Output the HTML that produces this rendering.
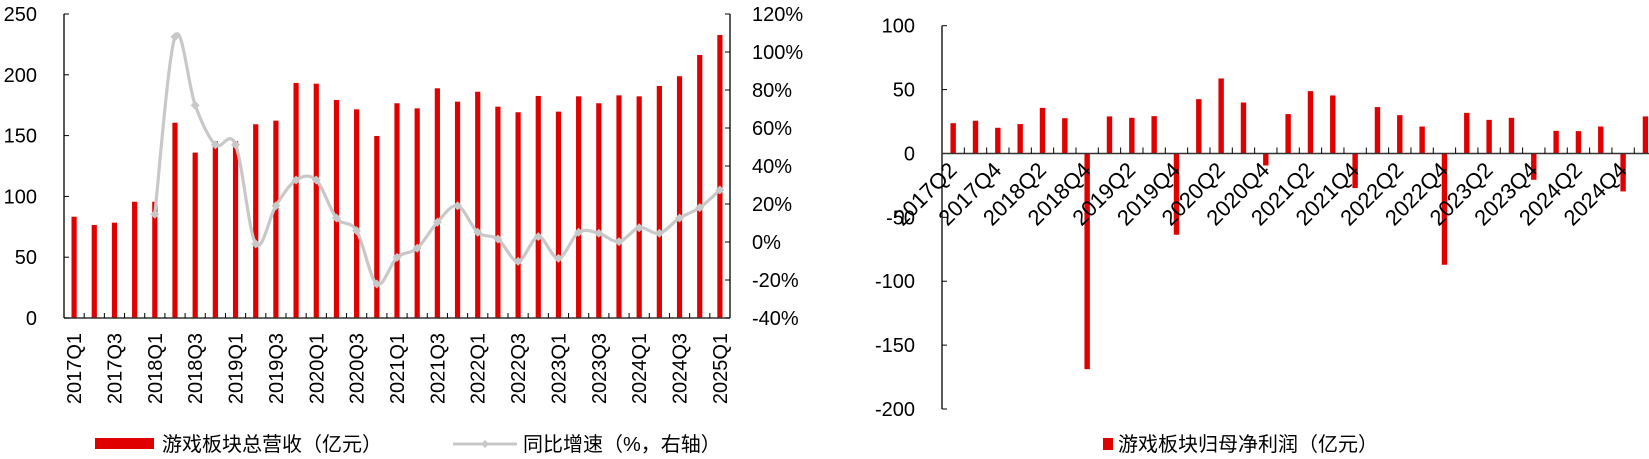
<!DOCTYPE html>
<html><head><meta charset="utf-8"><style>
body{margin:0;background:#fff}
svg{display:block;font-family:"Liberation Sans","Noto Sans CJK SC",sans-serif}
</style></head><body>
<svg id="c" width="1649" height="459" viewBox="0 0 1649 459" xmlns="http://www.w3.org/2000/svg"></svg>
<script>
const leftCats=["2017Q1","2017Q2","2017Q3","2017Q4","2018Q1","2018Q2","2018Q3","2018Q4","2019Q1","2019Q2","2019Q3","2019Q4","2020Q1","2020Q2","2020Q3","2020Q4","2021Q1","2021Q2","2021Q3","2021Q4","2022Q1","2022Q2","2022Q3","2022Q4","2023Q1","2023Q2","2023Q3","2023Q4","2024Q1","2024Q2","2024Q3","2024Q4","2025Q1"];
const revenue=[83.3,76.5,78.4,95.6,95.6,160.6,136,145.3,145.3,159.3,162.3,193.3,192.7,179.3,171.6,149.7,176.6,172.4,188.9,177.9,186.1,173.8,169.2,182.6,169.7,182.3,176.6,183.1,182.3,190.8,198.8,216.3,232.7];
const growth=[null,null,null,null,14.6,108,72,51.2,51.2,-1,19.1,32.6,32.6,12.6,5.9,-22.1,-8.1,-3.3,10.4,19.1,5.1,1.6,-10.2,2.8,-8.6,5.1,4.6,0.2,7.5,4.6,12.6,18.1,27.4];
const leftTicks=[0,50,100,150,200,250];
const rightTicks=[-40,-20,0,20,40,60,80,100,120];
const rightCats=["2017Q2","2017Q3","2017Q4","2018Q1","2018Q2","2018Q3","2018Q4","2019Q1","2019Q2","2019Q3","2019Q4","2020Q1","2020Q2","2020Q3","2020Q4","2021Q1","2021Q2","2021Q3","2021Q4","2022Q1","2022Q2","2022Q3","2022Q4","2023Q1","2023Q2","2023Q3","2023Q4","2024Q1","2024Q2","2024Q3","2024Q4","2025Q1"];
const profit=[23.7,25.6,20.1,23.0,35.7,27.6,-168.8,29.0,27.9,29.2,-63.6,42.5,58.7,39.9,-9.4,30.8,48.8,45.4,-27.1,36.3,30.0,21.1,-87.1,31.8,26.3,27.9,-20.6,17.7,17.5,21.1,-29.7,29.0];
const profitTicks=[-200,-150,-100,-50,0,50,100];

const svg=document.getElementById('c');
const NS='http://www.w3.org/2000/svg';
function mk(tag,attrs,parent,text){const e=document.createElementNS(NS,tag);for(const k in attrs)e.setAttribute(k,attrs[k]);if(text!==undefined)e.textContent=text;(parent||svg).appendChild(e);return e;}

// ---- left chart ----
const L={x0:64,x1:730,y0:318,y1:14};
const lbw=(L.x1-L.x0)/leftCats.length;
const lx=i=>L.x0+lbw*(i+0.5);
const ly=v=>L.y0-(v-0)/250*(L.y0-L.y1);
const ry=v=>L.y0-(v+40)/160*(L.y0-L.y1);
const gL=mk('g',{});


revenue.forEach((v,i)=>{
  const r=mk('rect',{x:lx(i)-2.6,y:ly(v),width:5.2,height:ly(0)-ly(v),fill:'#e00000'},gL);
  
  
});
mk('line',{x1:L.x0,y1:L.y1,x2:L.x0,y2:L.y0,stroke:'#000','stroke-width':1.3},gL);
mk('line',{x1:L.x1,y1:L.y1,x2:L.x1,y2:L.y0,stroke:'#000','stroke-width':1.3},gL);
mk('line',{x1:L.x0,y1:L.y0,x2:L.x1,y2:L.y0,stroke:'#333','stroke-width':1.5},gL);
for(let i=0;i<=leftCats.length;i++){mk('line',{x1:L.x0+lbw*i,y1:L.y0,x2:L.x0+lbw*i,y2:L.y0-5,stroke:'#000','stroke-width':1},gL);}
leftTicks.forEach(t=>{
  mk('line',{x1:L.x0,y1:ly(t),x2:L.x0+5,y2:ly(t),stroke:'#000'},gL);
  const tx=mk('text',{x:L.x0-27,y:ly(t)+7,'text-anchor':'end','font-size':20,fill:'#000'},gL,String(t));
  
  
});
rightTicks.forEach(t=>{
  mk('line',{x1:L.x1,y1:ry(t),x2:L.x1-5,y2:ry(t),stroke:'#000'},gL);
  const tx=mk('text',{x:L.x1+22,y:ry(t)+7,'font-size':20,fill:'#000'},gL,t+'%');
  
  
});
leftCats.forEach((c,i)=>{
  if(i%2)return;
  const tx=mk('text',{x:0,y:0,transform:`translate(${lx(i)+7},${L.y0+15}) rotate(-90)`,'text-anchor':'end','font-size':20,fill:'#000'},gL,c);
  
  
});
const pts=[];growth.forEach((v,i)=>{if(v!==null)pts.push([lx(i),ry(v)]);});
let d='M'+pts[0][0]+','+pts[0][1];
for(let i=0;i<pts.length-1;i++){
  const p0=pts[i-1]||pts[i],p1=pts[i],p2=pts[i+1],p3=pts[i+2]||p2;const k=1/6;
  d+=` C${p1[0]+(p2[0]-p0[0])*k},${p1[1]+(p2[1]-p0[1])*k} ${p2[0]-(p3[0]-p1[0])*k},${p2[1]-(p3[1]-p1[1])*k} ${p2[0]},${p2[1]}`;
}
const gl=mk('path',{d:d,fill:'none',stroke:'#c8c8c8','stroke-width':3.2},gL);


pts.forEach(p=>{
  const m=mk('path',{d:`M${p[0]-4.5},${p[1]} L${p[0]},${p[1]-4.5} L${p[0]+4.5},${p[1]} L${p[0]},${p[1]+4.5}Z`,fill:'#c8c8c8'},gL);
  
  
});
const lg1=mk('g',{},gL);


mk('rect',{x:95,y:438,width:59,height:11,fill:'#e00000'},lg1);
mk('text',{x:162,y:451,'font-size':20,fill:'#000'},lg1,'游戏板块总营收（亿元）');
const lg2=mk('g',{},gL);


mk('line',{x1:453,y1:444,x2:517,y2:444,stroke:'#c8c8c8','stroke-width':3},lg2);
mk('path',{d:'M481,444 L485,440 L489,444 L485,448Z',fill:'#c8c8c8'},lg2);
mk('text',{x:523,y:451,'font-size':20,fill:'#000'},lg2,'同比增速（%，右轴）');

// ---- right chart ----
const R={x0:942,x1:1656.6,top:25.7,bot:409};
const rbw=(R.x1-R.x0)/rightCats.length;
const px=i=>R.x0+rbw*(i+0.5);
const py=v=>R.top+(100-v)/300*(R.bot-R.top);
const gR=mk('g',{});


profit.forEach((v,i)=>{
  const y=Math.min(py(v),py(0)),h=Math.abs(py(v)-py(0));
  const r=mk('rect',{x:px(i)-2.7,y:y,width:5.4,height:h,fill:'#e00000'},gR);
  
  
});
mk('line',{x1:R.x0,y1:R.top,x2:R.x0,y2:R.bot,stroke:'#000','stroke-width':1.3},gR);
profitTicks.forEach(t=>{
  mk('line',{x1:R.x0,y1:py(t),x2:R.x0+5,y2:py(t),stroke:'#000'},gR);
  const tx=mk('text',{x:R.x0-27,y:py(t)+7,'text-anchor':'end','font-size':20,fill:'#000'},gR,String(t));
  
  
});
mk('line',{x1:R.x0,y1:py(0),x2:1649,y2:py(0),stroke:'#333','stroke-width':1.5},gR);
for(let i=1;i<rightCats.length;i++){mk('line',{x1:R.x0+rbw*i,y1:py(0),x2:R.x0+rbw*i,y2:py(0)-6,stroke:'#000'},gR);}
rightCats.forEach((c,i)=>{
  if(i%2)return;
  const tx=mk('text',{x:0,y:0,transform:`translate(${px(i)+5},${py(0)+18}) rotate(-45)`,'text-anchor':'end','font-size':22,fill:'#000'},gR,c);
  
  
});
const lg3=mk('g',{},gR);


mk('rect',{x:1103,y:438,width:10,height:12,fill:'#e00000'},lg3);
mk('text',{x:1118,y:451,'font-size':20,fill:'#000'},lg3,'游戏板块归母净利润（亿元）');
</script>
</body></html>
